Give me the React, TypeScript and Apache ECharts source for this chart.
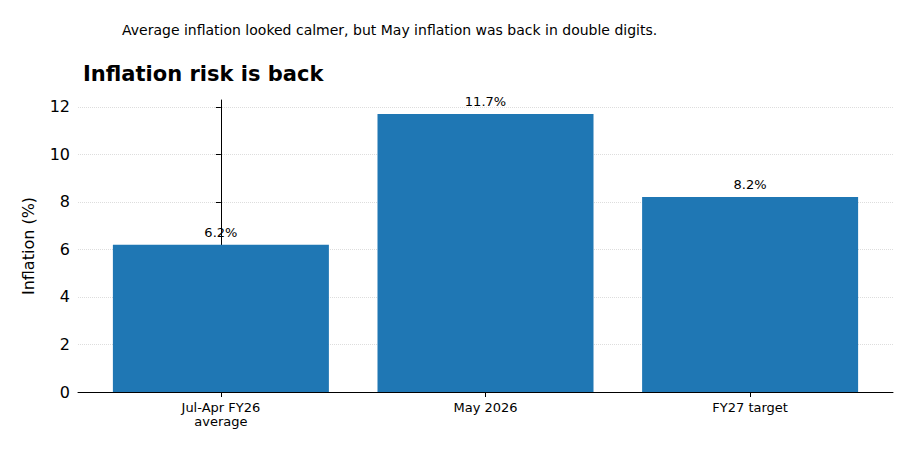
import { useEffect, useRef } from "react";
import * as echarts from "echarts";

const categories = ["Jul-Apr FY26\naverage", "May 2026", "FY27 target"];
const values = [6.2, 11.7, 8.2];
const yTicks = [0, 2, 4, 6, 8, 10, 12];

export default function App() {
  const chartRef = useRef<HTMLDivElement>(null);

  useEffect(() => {
    const chart = echarts.init(chartRef.current, null, { renderer: "svg" });
    chart.setOption({
      animation: false,
      textStyle: { fontFamily: "DejaVu Sans" },
      title: [
        {
          text: "Average inflation looked calmer, but May inflation was back in double digits.",
          left: 109,
          top: 10,
          textStyle: { fontSize: 14, fontWeight: "normal", color: "#000" },
        },
        {
          text: "Inflation risk is back",
          left: 70,
          top: 50,
          textStyle: { fontSize: 21, fontWeight: "bold", color: "#000" },
        },
      ],
      grid: { left: 70, right: 14, top: 92, bottom: 52 },
      xAxis: {
        type: "value",
        min: -0.54,
        max: 2.54,
        splitLine: { show: false },
        axisLine: { show: true, onZero: false, lineStyle: { color: "#000" } },
        axisTick: { show: true, customValues: [0, 1, 2], length: 5, lineStyle: { color: "#000" } },
        axisLabel: {
          customValues: [0, 1, 2],
          formatter: (v: number) => categories[Math.round(v)],
          fontSize: 13,
          color: "#000",
          lineHeight: 14,
          margin: 8,
        },
      },
      yAxis: {
        type: "value",
        min: 0,
        max: 12.285,
        name: "Inflation (%)",
        nameLocation: "middle",
        nameGap: 42,
        nameTextStyle: { fontSize: 16, color: "#000" },
        axisLine: { show: true, lineStyle: { color: "#000" } },
        axisTick: { show: true, customValues: yTicks, length: 5, inside: false, lineStyle: { color: "#000" } },
        axisLabel: { customValues: yTicks, fontSize: 16, color: "#000", margin: 8 },
        splitLine: { show: true, lineStyle: { type: "dotted", color: "#ddd" } },
      },
      series: [
        {
          type: "bar",
          data: values.map((v, i) => [i, v]),
          barWidth: 216,
          itemStyle: { color: "#1f77b4" },
          label: {
            show: true,
            position: "top",
            formatter: (p: any) => `${p.value[1].toFixed(1)}%`,
            fontSize: 13,
            color: "#000",
            distance: 6,
          },
        },
      ],
    });
    return () => chart.dispose();
  }, []);

  return <div ref={chartRef} style={{ width: 899, height: 436 }} />;
}
